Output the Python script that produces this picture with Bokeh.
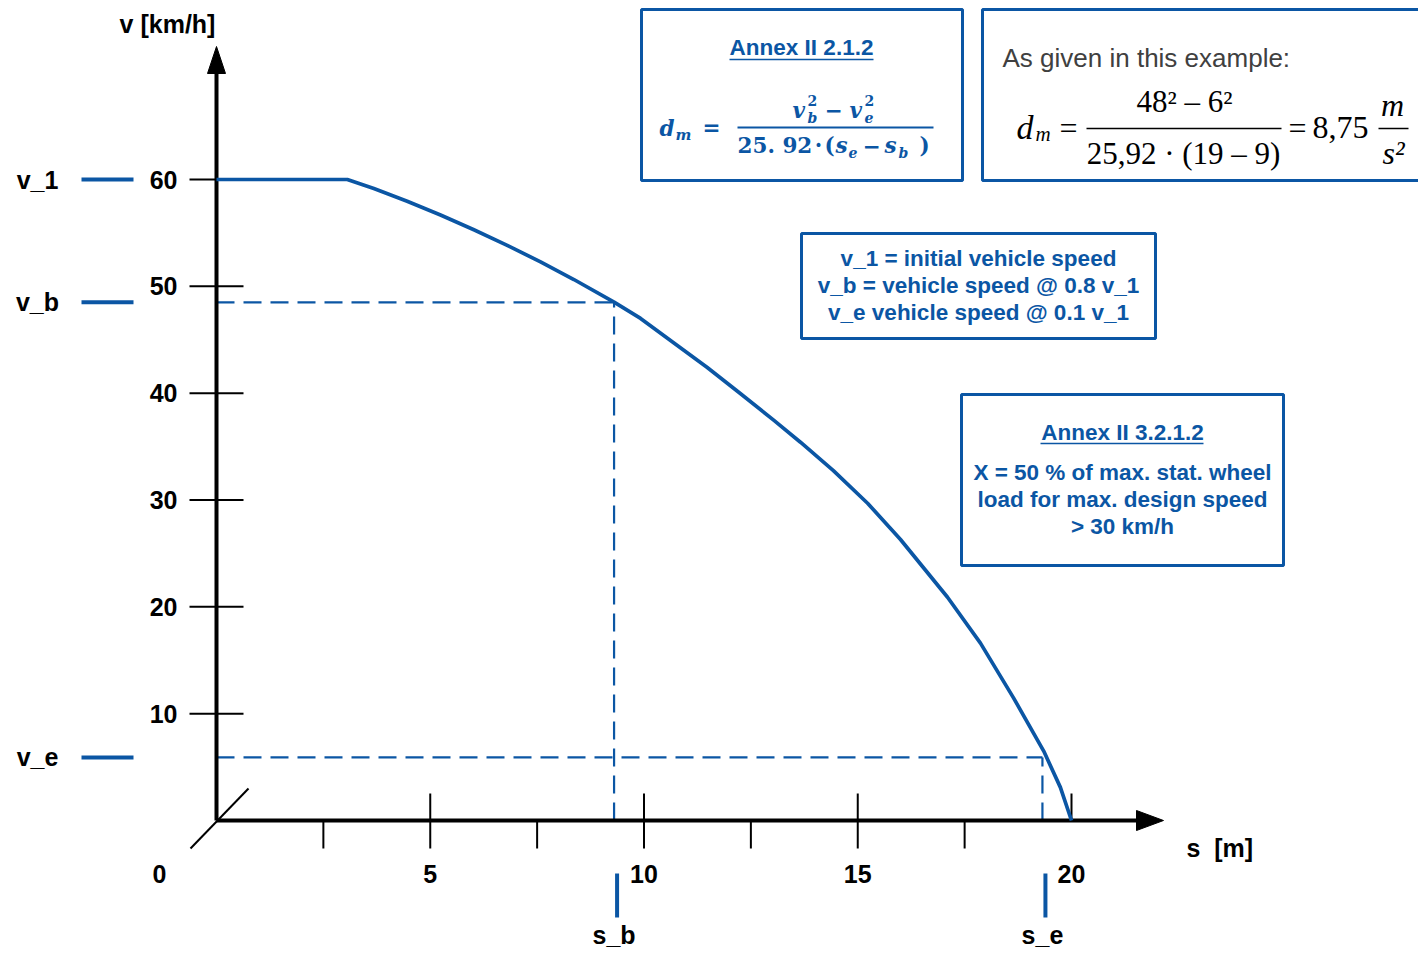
from bokeh.plotting import figure
from bokeh.models import Range1d
from bokeh.core.properties import value
from bokeh.embed import file_html
from bokeh.resources import INLINE

# ---------------- data ----------------
s_curve = [0.0, 3.06, 3.68, 4.46, 5.24, 6.02, 6.80, 7.58, 8.36, 9.30, 9.92, 10.70,
           11.48, 12.26, 13.04, 13.66, 14.43, 15.23, 16.0, 17.1, 17.87, 18.64,
           19.35, 19.74, 20.0]
v_curve = [60.0, 60.0, 59.15, 57.97, 56.68, 55.3, 53.84, 52.29, 50.64, 48.52, 47.0, 44.7,
           42.4, 39.95, 37.45, 35.41, 32.75, 29.7, 26.3, 20.9, 16.6, 11.5,
           6.5, 3.1, 0.0]

level_names = ["v_1", "v_b", "v_e"]
level_values = [60.0, 48.5, 5.9]
dist_names = ["s_b", "s_e"]
dist_values = [9.3, 19.32]

y_ticks = [10, 20, 30, 40, 50, 60]
y_tick_labels = ["10", "20", "30", "40", "50", "60"]
x_major = [5, 10, 15, 20]
x_minor = [2.5, 7.5, 12.5, 17.5]
x_tick_values = [0, 5, 10, 15, 20]
x_tick_labels = ["0", "5", "10", "15", "20"]

BLUE = "#0B56A4"

# ---------------- geometry helpers (picture px -> data units) ----------------
PX_S = 42.75     # px per metre
PX_V = 10.683    # px per km/h
X0, Y0 = 216, 820


def sx(px):
    return (px - X0) / PX_S


def vy(py):
    return (Y0 - py) / PX_V


W, H = 1418, 950
p = figure(width=W, height=H, output_backend="svg", toolbar_location=None,
           x_range=Range1d(sx(0), sx(W)), y_range=Range1d(vy(H), vy(0)),
           min_border=0, x_axis_location=None, y_axis_location=None)
p.grid.visible = False
p.outline_line_color = None
p.background_fill_color = "white"


def label(px, py, text, size, color="black", align="left", style="bold",
          font="Liberation Sans"):
    p.text(x=[sx(px)], y=[vy(py)], text=[text], text_font=value(font),
           text_font_size=f"{size}px", text_font_style=style, text_color=color,
           text_align=align, text_baseline="middle")


def hline(px0, px1, py, color, width, dash="solid"):
    p.line(x=[sx(px0), sx(px1)], y=[vy(py), vy(py)], line_color=color,
           line_width=width, line_dash=dash)


# ---------------- dashed guide lines ----------------
for s_val, v_val in zip(dist_values, level_values[1:]):
    p.line(x=[0, s_val], y=[v_val, v_val], line_color=BLUE, line_width=2.2, line_dash="18 9")
    p.line(x=[s_val, s_val], y=[0, v_val], line_color=BLUE, line_width=2.2, line_dash="18 9")

# ---------------- axes ----------------
p.line(x=[0, 0], y=[0, vy(72)], line_color="black", line_width=4)
p.line(x=[0, sx(1140)], y=[0, 0], line_color="black", line_width=4)
p.patch(x=[sx(207), sx(225), sx(216)], y=[vy(73), vy(73), vy(46)], color="black")
p.patch(x=[sx(1136), sx(1136), sx(1163)], y=[vy(810), vy(830), vy(820)], color="black")
p.line(x=[sx(190), sx(248)], y=[vy(848), vy(788)], line_color="black", line_width=2)

# y ticks
p.segment(x0=[sx(189)] * len(y_ticks), x1=[sx(243)] * len(y_ticks), y0=y_ticks, y1=y_ticks,
          line_color="black", line_width=2)
p.text(x=[sx(177)] * len(y_ticks), y=y_ticks, text=y_tick_labels,
       text_font=value("Liberation Sans"), text_font_size="25px", text_font_style="bold",
       text_color="black", text_align="right", text_baseline="middle")

# x ticks
p.segment(x0=x_major[:-1], x1=x_major[:-1], y0=[vy(793)] * 3, y1=[vy(848)] * 3,
          line_color="black", line_width=2)
p.segment(x0=[x_major[-1]], x1=[x_major[-1]], y0=[vy(793)], y1=[0],
          line_color="black", line_width=2)
p.segment(x0=x_minor, x1=x_minor, y0=[0] * 4, y1=[vy(848)] * 4,
          line_color="black", line_width=2)
xl_pos = [t if t != 0 else sx(159) for t in x_tick_values]
p.text(x=xl_pos, y=[vy(873)] * len(xl_pos), text=x_tick_labels,
       text_font=value("Liberation Sans"), text_font_size="25px", text_font_style="bold",
       text_color="black", text_align="center", text_baseline="middle")

# axis titles
label(167, 23, "v [km/h]", 25, align="center")
label(1186, 847, "s\u00a0 [m]", 25)

# ---------------- level markers ----------------
p.segment(x0=[sx(81)] * 3, x1=[sx(133)] * 3, y0=level_values, y1=level_values,
          line_color=BLUE, line_width=4)
p.text(x=[sx(37)] * 3, y=level_values, text=level_names,
       text_font=value("Liberation Sans"), text_font_size="25px", text_font_style="bold",
       text_color="black", text_align="center", text_baseline="middle")
p.segment(x0=[v + sx(219) for v in dist_values], x1=[v + sx(219) for v in dist_values],
          y0=[vy(873)] * 2, y1=[vy(917)] * 2, line_color=BLUE, line_width=4)
p.text(x=dist_values, y=[vy(934)] * 2, text=dist_names,
       text_font=value("Liberation Sans"), text_font_size="25px", text_font_style="bold",
       text_color="black", text_align="center", text_baseline="middle")

# ---------------- curve ----------------
p.line(x=s_curve, y=v_curve, line_color=BLUE, line_width=3.7, line_join="round")

# ---------------- boxes ----------------
box_l = [641, 982, 801, 961]
box_r = [962, 1440, 1155, 1283]
box_t = [9, 9, 233, 394]
box_b = [180, 180, 338, 565]
p.quad(left=[sx(v) for v in box_l], right=[sx(v) for v in box_r],
       top=[vy(v) for v in box_t], bottom=[vy(v) for v in box_b],
       fill_alpha=0, line_color=BLUE, line_width=3)

# Box A
label(801, 47, "Annex II 2.1.2", 22.5, color=BLUE, align="center")
hline(729, 873, 59, BLUE, 1.5)
MF = "DejaVu Serif"
FS, SS = 21.5, 14
label(659, 128, "d", FS, BLUE, style="bold italic", font=MF)
label(675, 134, "m", SS + 1, BLUE, style="bold italic", font=MF)
label(711, 127, "=", FS, BLUE, align="center", font=MF)
hline(737, 933, 127, BLUE, 2)
label(792, 110, "v", FS, BLUE, style="bold italic", font=MF)
label(807, 100, "2", SS, BLUE, font=MF)
label(807, 117, "b", SS, BLUE, style="bold italic", font=MF)
label(833, 109, "\u2212", FS, BLUE, align="center", font=MF)
label(849, 110, "v", FS, BLUE, style="bold italic", font=MF)
label(864, 100, "2", SS, BLUE, font=MF)
label(864, 117, "e", SS, BLUE, style="bold italic", font=MF)
label(737, 145, "25. 92", FS, BLUE, font=MF)
label(818, 145, "\u00b7", FS, BLUE, align="center", font=MF)
label(824, 145, "(", FS, BLUE, font=MF)
label(835, 145, "s", FS, BLUE, style="bold italic", font=MF)
label(848, 152, "e", SS, BLUE, style="bold italic", font=MF)
label(871, 145, "\u2212", FS, BLUE, align="center", font=MF)
label(884, 145, "s", FS, BLUE, style="bold italic", font=MF)
label(898, 152, "b", SS, BLUE, style="bold italic", font=MF)
label(919, 145, ")", FS, BLUE, font=MF)

# Box B
SER = "Liberation Serif"
label(1002, 57, "As given in this example:", 26, color="#404040", style="normal")
label(1016, 127, "d", 34, style="italic", font=SER)
label(1035, 133, "m", 21, style="italic", font=SER)
label(1068, 127, "=", 32, align="center", style="normal", font=SER)
hline(1086, 1281, 128, "black", 1.5)
label(1184, 101, "48\u00b2 \u2013 6\u00b2", 31, align="center", style="normal", font=SER)
label(1183, 153, "25,92 \u00b7 (19 \u2013 9)", 31, align="center", style="normal", font=SER)
label(1297, 127, "=", 32, align="center", style="normal", font=SER)
label(1340, 127, "8,75", 32, align="center", style="normal", font=SER)
hline(1378, 1408, 128, "black", 1.5)
label(1392, 104, "m", 32, align="center", style="italic", font=SER)
label(1393, 152, "s\u00b2", 32, align="center", style="italic", font=SER)

# Box C
label(978, 258, "v_1 = initial vehicle speed", 22.5, BLUE, align="center")
label(978, 285, "v_b = vehicle speed @ 0.8 v_1", 22.5, BLUE, align="center")
label(978, 312, "v_e vehicle speed @ 0.1 v_1", 22.5, BLUE, align="center")

# Box D
label(1122, 432, "Annex II 3.2.1.2", 22.5, BLUE, align="center")
hline(1040, 1203, 443, BLUE, 1.5)
label(1122, 472, "X = 50 % of max. stat. wheel", 22.5, BLUE, align="center")
label(1122, 499, "load for max. design speed", 22.5, BLUE, align="center")
label(1122, 526, "> 30 km/h", 22.5, BLUE, align="center")

open("out.html", "w").write(file_html(p, INLINE))
